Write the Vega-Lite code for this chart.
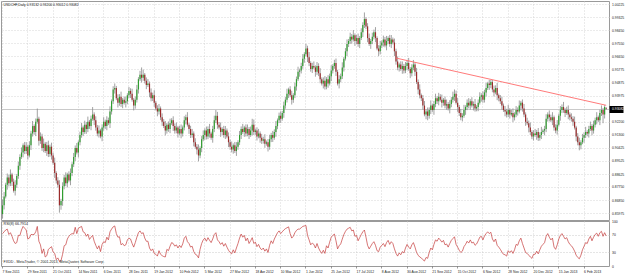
{
"$schema":"https://vega.github.io/schema/vega-lite/v6.json",
"padding":0,
"background":"white",
"bounds":"flush",
"config":{"font":"Liberation Sans","view":{"stroke":"#9a9a9a","strokeWidth":1},"axis":{"labelOverlap":false}},
"data":{"values":[
{"d":"2011-09-07","o":0.8590,"h":0.8690,"l":0.8560,"c":0.8650,"r":72},
{"d":"2011-09-08","o":0.8650,"h":0.8741,"l":0.8622,"c":0.8710,"r":76},
{"d":"2011-09-09","o":0.8710,"h":0.8804,"l":0.8697,"c":0.8790,"r":80},
{"d":"2011-09-12","o":0.8790,"h":0.8867,"l":0.8757,"c":0.8840,"r":82},
{"d":"2011-09-13","o":0.8840,"h":0.8858,"l":0.8779,"c":0.8800,"r":70},
{"d":"2011-09-14","o":0.8800,"h":0.8895,"l":0.8781,"c":0.8860,"r":74},
{"d":"2011-09-15","o":0.8860,"h":0.8872,"l":0.8782,"c":0.8810,"r":66},
{"d":"2011-09-16","o":0.8810,"h":0.8832,"l":0.8737,"c":0.8750,"r":56},
{"d":"2011-09-19","o":0.8750,"h":0.8821,"l":0.8717,"c":0.8790,"r":50},
{"d":"2011-09-20","o":0.8790,"h":0.8864,"l":0.8769,"c":0.8850,"r":52},
{"d":"2011-09-21","o":0.8850,"h":0.8947,"l":0.8831,"c":0.8920,"r":68},
{"d":"2011-09-22","o":0.8920,"h":0.8998,"l":0.8892,"c":0.8980,"r":68},
{"d":"2011-09-23","o":0.8980,"h":0.9045,"l":0.8967,"c":0.9010,"r":80},
{"d":"2011-09-26","o":0.9010,"h":0.9072,"l":0.8977,"c":0.9060,"r":88},
{"d":"2011-09-27","o":0.9060,"h":0.9082,"l":0.8999,"c":0.9020,"r":84},
{"d":"2011-09-28","o":0.9020,"h":0.9081,"l":0.9001,"c":0.9050,"r":80},
{"d":"2011-09-29","o":0.9050,"h":0.9064,"l":0.8962,"c":0.8990,"r":60},
{"d":"2011-09-30","o":0.8990,"h":0.9087,"l":0.8977,"c":0.9060,"r":62},
{"d":"2011-10-03","o":0.9060,"h":0.9158,"l":0.9027,"c":0.9140,"r":70},
{"d":"2011-10-04","o":0.9140,"h":0.9225,"l":0.9119,"c":0.9190,"r":70},
{"d":"2011-10-05","o":0.9190,"h":0.9202,"l":0.9131,"c":0.9150,"r":70},
{"d":"2011-10-06","o":0.9150,"h":0.9242,"l":0.9122,"c":0.9220,"r":76},
{"d":"2011-10-07","o":0.9220,"h":0.9310,"l":0.9207,"c":0.9240,"r":88},
{"d":"2011-10-10","o":0.9240,"h":0.9254,"l":0.9057,"c":0.9090,"r":55},
{"d":"2011-10-11","o":0.9090,"h":0.9147,"l":0.9069,"c":0.9120,"r":47},
{"d":"2011-10-12","o":0.9120,"h":0.9138,"l":0.9021,"c":0.9040,"r":28},
{"d":"2011-10-13","o":0.9040,"h":0.9105,"l":0.9012,"c":0.9070,"r":38},
{"d":"2011-10-14","o":0.9070,"h":0.9082,"l":0.9007,"c":0.9020,"r":20},
{"d":"2011-10-17","o":0.9020,"h":0.9082,"l":0.8987,"c":0.9060,"r":23},
{"d":"2011-10-18","o":0.9060,"h":0.9091,"l":0.8979,"c":0.9000,"r":37},
{"d":"2011-10-19","o":0.9000,"h":0.9064,"l":0.8981,"c":0.9050,"r":40},
{"d":"2011-10-20","o":0.9050,"h":0.9077,"l":0.8962,"c":0.8990,"r":43},
{"d":"2011-10-21","o":0.8990,"h":0.9008,"l":0.8927,"c":0.8940,"r":31},
{"d":"2011-10-24","o":0.8940,"h":0.8975,"l":0.8837,"c":0.8870,"r":28},
{"d":"2011-10-25","o":0.8870,"h":0.8882,"l":0.8799,"c":0.8820,"r":14},
{"d":"2011-10-26","o":0.8820,"h":0.8842,"l":0.8771,"c":0.8790,"r":18},
{"d":"2011-10-27","o":0.8790,"h":0.8821,"l":0.8600,"c":0.8650,"r":10},
{"d":"2011-10-28","o":0.8650,"h":0.8694,"l":0.8620,"c":0.8680,"r":12},
{"d":"2011-10-31","o":0.8680,"h":0.8807,"l":0.8647,"c":0.8780,"r":26},
{"d":"2011-11-01","o":0.8780,"h":0.8858,"l":0.8759,"c":0.8840,"r":45},
{"d":"2011-11-02","o":0.8840,"h":0.8875,"l":0.8781,"c":0.8800,"r":47},
{"d":"2011-11-03","o":0.8800,"h":0.8872,"l":0.8772,"c":0.8860,"r":60},
{"d":"2011-11-04","o":0.8860,"h":0.8882,"l":0.8807,"c":0.8820,"r":66},
{"d":"2011-11-07","o":0.8820,"h":0.8901,"l":0.8787,"c":0.8870,"r":70},
{"d":"2011-11-08","o":0.8870,"h":0.8944,"l":0.8849,"c":0.8930,"r":72},
{"d":"2011-11-09","o":0.8930,"h":0.9007,"l":0.8911,"c":0.8980,"r":71},
{"d":"2011-11-10","o":0.8980,"h":0.9058,"l":0.8952,"c":0.9040,"r":86},
{"d":"2011-11-11","o":0.9040,"h":0.9075,"l":0.8997,"c":0.9010,"r":72},
{"d":"2011-11-14","o":0.9010,"h":0.9092,"l":0.8977,"c":0.9080,"r":84},
{"d":"2011-11-15","o":0.9080,"h":0.9152,"l":0.9059,"c":0.9130,"r":86},
{"d":"2011-11-16","o":0.9130,"h":0.9211,"l":0.9111,"c":0.9180,"r":88},
{"d":"2011-11-17","o":0.9180,"h":0.9194,"l":0.9122,"c":0.9150,"r":76},
{"d":"2011-11-18","o":0.9150,"h":0.9227,"l":0.9137,"c":0.9200,"r":74},
{"d":"2011-11-21","o":0.9200,"h":0.9218,"l":0.9137,"c":0.9170,"r":66},
{"d":"2011-11-22","o":0.9170,"h":0.9255,"l":0.9149,"c":0.9220,"r":71},
{"d":"2011-11-23","o":0.9220,"h":0.9232,"l":0.9171,"c":0.9190,"r":59},
{"d":"2011-11-24","o":0.9190,"h":0.9262,"l":0.9162,"c":0.9240,"r":64},
{"d":"2011-11-25","o":0.9240,"h":0.9320,"l":0.9227,"c":0.9270,"r":68},
{"d":"2011-11-28","o":0.9270,"h":0.9284,"l":0.9197,"c":0.9230,"r":55},
{"d":"2011-11-29","o":0.9230,"h":0.9257,"l":0.9159,"c":0.9180,"r":46},
{"d":"2011-11-30","o":0.9180,"h":0.9198,"l":0.9121,"c":0.9140,"r":38},
{"d":"2011-12-01","o":0.9140,"h":0.9195,"l":0.9112,"c":0.9160,"r":45},
{"d":"2011-12-02","o":0.9160,"h":0.9172,"l":0.9107,"c":0.9120,"r":32},
{"d":"2011-12-05","o":0.9120,"h":0.9202,"l":0.9087,"c":0.9180,"r":48},
{"d":"2011-12-06","o":0.9180,"h":0.9251,"l":0.9159,"c":0.9220,"r":54},
{"d":"2011-12-07","o":0.9220,"h":0.9234,"l":0.9171,"c":0.9190,"r":52},
{"d":"2011-12-08","o":0.9190,"h":0.9257,"l":0.9162,"c":0.9230,"r":64},
{"d":"2011-12-09","o":0.9230,"h":0.9248,"l":0.9197,"c":0.9210,"r":58},
{"d":"2011-12-12","o":0.9210,"h":0.9325,"l":0.9177,"c":0.9290,"r":76},
{"d":"2011-12-13","o":0.9290,"h":0.9372,"l":0.9269,"c":0.9360,"r":82},
{"d":"2011-12-14","o":0.9360,"h":0.9462,"l":0.9341,"c":0.9440,"r":87},
{"d":"2011-12-15","o":0.9440,"h":0.9481,"l":0.9412,"c":0.9450,"r":89},
{"d":"2011-12-16","o":0.9450,"h":0.9464,"l":0.9367,"c":0.9380,"r":72},
{"d":"2011-12-19","o":0.9380,"h":0.9407,"l":0.9317,"c":0.9350,"r":64},
{"d":"2011-12-20","o":0.9350,"h":0.9408,"l":0.9329,"c":0.9390,"r":65},
{"d":"2011-12-21","o":0.9390,"h":0.9425,"l":0.9321,"c":0.9340,"r":47},
{"d":"2011-12-22","o":0.9340,"h":0.9382,"l":0.9312,"c":0.9370,"r":50},
{"d":"2011-12-23","o":0.9370,"h":0.9392,"l":0.9337,"c":0.9350,"r":45},
{"d":"2011-12-26","o":0.9350,"h":0.9391,"l":0.9317,"c":0.9360,"r":47},
{"d":"2011-12-27","o":0.9360,"h":0.9414,"l":0.9339,"c":0.9400,"r":58},
{"d":"2011-12-28","o":0.9400,"h":0.9457,"l":0.9381,"c":0.9430,"r":62},
{"d":"2011-12-29","o":0.9430,"h":0.9448,"l":0.9382,"c":0.9410,"r":60},
{"d":"2011-12-30","o":0.9410,"h":0.9445,"l":0.9357,"c":0.9370,"r":50},
{"d":"2012-01-02","o":0.9370,"h":0.9382,"l":0.9297,"c":0.9330,"r":42},
{"d":"2012-01-03","o":0.9330,"h":0.9392,"l":0.9309,"c":0.9370,"r":52},
{"d":"2012-01-04","o":0.9370,"h":0.9471,"l":0.9351,"c":0.9440,"r":64},
{"d":"2012-01-05","o":0.9440,"h":0.9524,"l":0.9412,"c":0.9510,"r":74},
{"d":"2012-01-06","o":0.9510,"h":0.9567,"l":0.9497,"c":0.9540,"r":78},
{"d":"2012-01-09","o":0.9540,"h":0.9590,"l":0.9487,"c":0.9520,"r":72},
{"d":"2012-01-10","o":0.9520,"h":0.9575,"l":0.9499,"c":0.9540,"r":74},
{"d":"2012-01-11","o":0.9540,"h":0.9552,"l":0.9481,"c":0.9500,"r":62},
{"d":"2012-01-12","o":0.9500,"h":0.9522,"l":0.9442,"c":0.9470,"r":55},
{"d":"2012-01-13","o":0.9470,"h":0.9511,"l":0.9457,"c":0.9480,"r":55},
{"d":"2012-01-16","o":0.9480,"h":0.9494,"l":0.9387,"c":0.9420,"r":40},
{"d":"2012-01-17","o":0.9420,"h":0.9447,"l":0.9359,"c":0.9380,"r":34},
{"d":"2012-01-18","o":0.9380,"h":0.9418,"l":0.9361,"c":0.9400,"r":38},
{"d":"2012-01-19","o":0.9400,"h":0.9435,"l":0.9322,"c":0.9350,"r":28},
{"d":"2012-01-20","o":0.9350,"h":0.9362,"l":0.9297,"c":0.9310,"r":26},
{"d":"2012-01-23","o":0.9310,"h":0.9332,"l":0.9257,"c":0.9290,"r":22},
{"d":"2012-01-24","o":0.9290,"h":0.9341,"l":0.9269,"c":0.9310,"r":34},
{"d":"2012-01-25","o":0.9310,"h":0.9324,"l":0.9231,"c":0.9250,"r":26},
{"d":"2012-01-26","o":0.9250,"h":0.9277,"l":0.9192,"c":0.9220,"r":23},
{"d":"2012-01-27","o":0.9220,"h":0.9238,"l":0.9177,"c":0.9190,"r":21},
{"d":"2012-01-30","o":0.9190,"h":0.9225,"l":0.9127,"c":0.9160,"r":20},
{"d":"2012-01-31","o":0.9160,"h":0.9212,"l":0.9139,"c":0.9200,"r":37},
{"d":"2012-02-01","o":0.9200,"h":0.9222,"l":0.9151,"c":0.9170,"r":34},
{"d":"2012-02-02","o":0.9170,"h":0.9241,"l":0.9142,"c":0.9210,"r":44},
{"d":"2012-02-03","o":0.9210,"h":0.9244,"l":0.9197,"c":0.9230,"r":52},
{"d":"2012-02-06","o":0.9230,"h":0.9257,"l":0.9157,"c":0.9190,"r":50},
{"d":"2012-02-07","o":0.9190,"h":0.9208,"l":0.9139,"c":0.9160,"r":44},
{"d":"2012-02-08","o":0.9160,"h":0.9215,"l":0.9141,"c":0.9180,"r":47},
{"d":"2012-02-09","o":0.9180,"h":0.9192,"l":0.9112,"c":0.9140,"r":40},
{"d":"2012-02-10","o":0.9140,"h":0.9192,"l":0.9127,"c":0.9170,"r":46},
{"d":"2012-02-13","o":0.9170,"h":0.9201,"l":0.9107,"c":0.9140,"r":41},
{"d":"2012-02-14","o":0.9140,"h":0.9194,"l":0.9119,"c":0.9180,"r":49},
{"d":"2012-02-15","o":0.9180,"h":0.9257,"l":0.9161,"c":0.9230,"r":62},
{"d":"2012-02-16","o":0.9230,"h":0.9268,"l":0.9202,"c":0.9250,"r":66},
{"d":"2012-02-17","o":0.9250,"h":0.9285,"l":0.9187,"c":0.9200,"r":54},
{"d":"2012-02-20","o":0.9200,"h":0.9212,"l":0.9137,"c":0.9170,"r":50},
{"d":"2012-02-21","o":0.9170,"h":0.9192,"l":0.9109,"c":0.9130,"r":42},
{"d":"2012-02-22","o":0.9130,"h":0.9171,"l":0.9111,"c":0.9140,"r":44},
{"d":"2012-02-23","o":0.9140,"h":0.9154,"l":0.9052,"c":0.9080,"r":32},
{"d":"2012-02-24","o":0.9080,"h":0.9107,"l":0.9037,"c":0.9050,"r":26},
{"d":"2012-02-27","o":0.9050,"h":0.9068,"l":0.8997,"c":0.9030,"r":24},
{"d":"2012-02-28","o":0.9030,"h":0.9065,"l":0.8950,"c":0.8990,"r":18},
{"d":"2012-02-29","o":0.8990,"h":0.9052,"l":0.8971,"c":0.9040,"r":37},
{"d":"2012-03-01","o":0.9040,"h":0.9122,"l":0.9012,"c":0.9100,"r":50},
{"d":"2012-03-02","o":0.9100,"h":0.9161,"l":0.9087,"c":0.9130,"r":58},
{"d":"2012-03-05","o":0.9130,"h":0.9174,"l":0.9097,"c":0.9160,"r":62},
{"d":"2012-03-06","o":0.9160,"h":0.9187,"l":0.9099,"c":0.9120,"r":55},
{"d":"2012-03-07","o":0.9120,"h":0.9188,"l":0.9101,"c":0.9170,"r":63},
{"d":"2012-03-08","o":0.9170,"h":0.9205,"l":0.9112,"c":0.9140,"r":57},
{"d":"2012-03-09","o":0.9140,"h":0.9152,"l":0.9097,"c":0.9110,"r":52},
{"d":"2012-03-12","o":0.9110,"h":0.9192,"l":0.9077,"c":0.9170,"r":60},
{"d":"2012-03-13","o":0.9170,"h":0.9261,"l":0.9149,"c":0.9230,"r":70},
{"d":"2012-03-14","o":0.9230,"h":0.9300,"l":0.9211,"c":0.9260,"r":74},
{"d":"2012-03-15","o":0.9260,"h":0.9287,"l":0.9172,"c":0.9200,"r":58},
{"d":"2012-03-16","o":0.9200,"h":0.9218,"l":0.9167,"c":0.9180,"r":54},
{"d":"2012-03-19","o":0.9180,"h":0.9215,"l":0.9117,"c":0.9150,"r":48},
{"d":"2012-03-20","o":0.9150,"h":0.9182,"l":0.9129,"c":0.9170,"r":52},
{"d":"2012-03-21","o":0.9170,"h":0.9192,"l":0.9111,"c":0.9130,"r":44},
{"d":"2012-03-22","o":0.9130,"h":0.9191,"l":0.9102,"c":0.9160,"r":50},
{"d":"2012-03-23","o":0.9160,"h":0.9174,"l":0.9107,"c":0.9120,"r":42},
{"d":"2012-03-26","o":0.9120,"h":0.9147,"l":0.9047,"c":0.9080,"r":35},
{"d":"2012-03-27","o":0.9080,"h":0.9098,"l":0.9029,"c":0.9050,"r":30},
{"d":"2012-03-28","o":0.9050,"h":0.9085,"l":0.9011,"c":0.9030,"r":27},
{"d":"2012-03-29","o":0.9030,"h":0.9072,"l":0.9002,"c":0.9060,"r":36},
{"d":"2012-03-30","o":0.9060,"h":0.9082,"l":0.9007,"c":0.9020,"r":29},
{"d":"2012-04-02","o":0.9020,"h":0.9081,"l":0.8987,"c":0.9050,"r":40},
{"d":"2012-04-03","o":0.9050,"h":0.9094,"l":0.9029,"c":0.9080,"r":50},
{"d":"2012-04-04","o":0.9080,"h":0.9157,"l":0.9061,"c":0.9130,"r":62},
{"d":"2012-04-05","o":0.9130,"h":0.9188,"l":0.9102,"c":0.9170,"r":71},
{"d":"2012-04-06","o":0.9170,"h":0.9205,"l":0.9137,"c":0.9150,"r":64},
{"d":"2012-04-09","o":0.9150,"h":0.9192,"l":0.9117,"c":0.9180,"r":68},
{"d":"2012-04-10","o":0.9180,"h":0.9202,"l":0.9119,"c":0.9140,"r":56},
{"d":"2012-04-11","o":0.9140,"h":0.9201,"l":0.9121,"c":0.9170,"r":62},
{"d":"2012-04-12","o":0.9170,"h":0.9184,"l":0.9102,"c":0.9130,"r":50},
{"d":"2012-04-13","o":0.9130,"h":0.9187,"l":0.9117,"c":0.9160,"r":56},
{"d":"2012-04-16","o":0.9160,"h":0.9240,"l":0.9127,"c":0.9200,"r":63},
{"d":"2012-04-17","o":0.9200,"h":0.9235,"l":0.9129,"c":0.9150,"r":50},
{"d":"2012-04-18","o":0.9150,"h":0.9172,"l":0.9131,"c":0.9160,"r":53},
{"d":"2012-04-19","o":0.9160,"h":0.9182,"l":0.9092,"c":0.9120,"r":43},
{"d":"2012-04-20","o":0.9120,"h":0.9171,"l":0.9107,"c":0.9140,"r":48},
{"d":"2012-04-23","o":0.9140,"h":0.9154,"l":0.9077,"c":0.9110,"r":40},
{"d":"2012-04-24","o":0.9110,"h":0.9137,"l":0.9069,"c":0.9090,"r":36},
{"d":"2012-04-25","o":0.9090,"h":0.9118,"l":0.9071,"c":0.9100,"r":40},
{"d":"2012-04-26","o":0.9100,"h":0.9135,"l":0.9042,"c":0.9070,"r":33},
{"d":"2012-04-27","o":0.9070,"h":0.9092,"l":0.9057,"c":0.9080,"r":38},
{"d":"2012-04-30","o":0.9080,"h":0.9102,"l":0.9017,"c":0.9050,"r":30},
{"d":"2012-05-01","o":0.9050,"h":0.9131,"l":0.9029,"c":0.9100,"r":46},
{"d":"2012-05-02","o":0.9100,"h":0.9144,"l":0.9081,"c":0.9130,"r":56},
{"d":"2012-05-03","o":0.9130,"h":0.9157,"l":0.9082,"c":0.9110,"r":50},
{"d":"2012-05-04","o":0.9110,"h":0.9168,"l":0.9097,"c":0.9150,"r":60},
{"d":"2012-05-07","o":0.9150,"h":0.9225,"l":0.9117,"c":0.9190,"r":67},
{"d":"2012-05-08","o":0.9190,"h":0.9242,"l":0.9169,"c":0.9230,"r":74},
{"d":"2012-05-09","o":0.9230,"h":0.9282,"l":0.9211,"c":0.9260,"r":78},
{"d":"2012-05-10","o":0.9260,"h":0.9291,"l":0.9212,"c":0.9240,"r":72},
{"d":"2012-05-11","o":0.9240,"h":0.9294,"l":0.9227,"c":0.9280,"r":76},
{"d":"2012-05-14","o":0.9280,"h":0.9357,"l":0.9247,"c":0.9330,"r":80},
{"d":"2012-05-15","o":0.9330,"h":0.9388,"l":0.9309,"c":0.9370,"r":83},
{"d":"2012-05-16","o":0.9370,"h":0.9445,"l":0.9351,"c":0.9410,"r":85},
{"d":"2012-05-17","o":0.9410,"h":0.9452,"l":0.9382,"c":0.9440,"r":87},
{"d":"2012-05-18","o":0.9440,"h":0.9462,"l":0.9387,"c":0.9400,"r":72},
{"d":"2012-05-21","o":0.9400,"h":0.9431,"l":0.9337,"c":0.9370,"r":62},
{"d":"2012-05-22","o":0.9370,"h":0.9414,"l":0.9349,"c":0.9400,"r":66},
{"d":"2012-05-23","o":0.9400,"h":0.9487,"l":0.9381,"c":0.9460,"r":74},
{"d":"2012-05-24","o":0.9460,"h":0.9528,"l":0.9432,"c":0.9510,"r":79},
{"d":"2012-05-25","o":0.9510,"h":0.9595,"l":0.9497,"c":0.9560,"r":82},
{"d":"2012-05-28","o":0.9560,"h":0.9582,"l":0.9527,"c":0.9570,"r":82},
{"d":"2012-05-29","o":0.9570,"h":0.9622,"l":0.9549,"c":0.9600,"r":85},
{"d":"2012-05-30","o":0.9600,"h":0.9681,"l":0.9581,"c":0.9650,"r":88},
{"d":"2012-05-31","o":0.9650,"h":0.9694,"l":0.9622,"c":0.9680,"r":89},
{"d":"2012-06-01","o":0.9680,"h":0.9750,"l":0.9667,"c":0.9720,"r":90},
{"d":"2012-06-04","o":0.9720,"h":0.9738,"l":0.9627,"c":0.9660,"r":68},
{"d":"2012-06-05","o":0.9660,"h":0.9695,"l":0.9599,"c":0.9620,"r":58},
{"d":"2012-06-06","o":0.9620,"h":0.9632,"l":0.9561,"c":0.9580,"r":47},
{"d":"2012-06-07","o":0.9580,"h":0.9622,"l":0.9552,"c":0.9600,"r":51},
{"d":"2012-06-08","o":0.9600,"h":0.9631,"l":0.9577,"c":0.9590,"r":48},
{"d":"2012-06-11","o":0.9590,"h":0.9604,"l":0.9527,"c":0.9560,"r":40},
{"d":"2012-06-12","o":0.9560,"h":0.9627,"l":0.9539,"c":0.9600,"r":50},
{"d":"2012-06-13","o":0.9600,"h":0.9618,"l":0.9531,"c":0.9550,"r":40},
{"d":"2012-06-14","o":0.9550,"h":0.9585,"l":0.9482,"c":0.9510,"r":33},
{"d":"2012-06-15","o":0.9510,"h":0.9522,"l":0.9467,"c":0.9480,"r":28},
{"d":"2012-06-18","o":0.9480,"h":0.9522,"l":0.9447,"c":0.9500,"r":35},
{"d":"2012-06-19","o":0.9500,"h":0.9531,"l":0.9439,"c":0.9460,"r":28},
{"d":"2012-06-20","o":0.9460,"h":0.9524,"l":0.9441,"c":0.9510,"r":45},
{"d":"2012-06-21","o":0.9510,"h":0.9537,"l":0.9452,"c":0.9480,"r":40},
{"d":"2012-06-22","o":0.9480,"h":0.9548,"l":0.9467,"c":0.9530,"r":53},
{"d":"2012-06-25","o":0.9530,"h":0.9605,"l":0.9497,"c":0.9570,"r":64},
{"d":"2012-06-26","o":0.9570,"h":0.9612,"l":0.9549,"c":0.9600,"r":68},
{"d":"2012-06-27","o":0.9600,"h":0.9642,"l":0.9581,"c":0.9620,"r":71},
{"d":"2012-06-28","o":0.9620,"h":0.9651,"l":0.9532,"c":0.9560,"r":56},
{"d":"2012-06-29","o":0.9560,"h":0.9574,"l":0.9467,"c":0.9480,"r":38},
{"d":"2012-07-02","o":0.9480,"h":0.9537,"l":0.9447,"c":0.9510,"r":45},
{"d":"2012-07-03","o":0.9510,"h":0.9548,"l":0.9489,"c":0.9530,"r":49},
{"d":"2012-07-04","o":0.9530,"h":0.9625,"l":0.9511,"c":0.9590,"r":60},
{"d":"2012-07-05","o":0.9590,"h":0.9662,"l":0.9562,"c":0.9650,"r":70},
{"d":"2012-07-06","o":0.9650,"h":0.9722,"l":0.9637,"c":0.9700,"r":77},
{"d":"2012-07-09","o":0.9700,"h":0.9781,"l":0.9667,"c":0.9750,"r":82},
{"d":"2012-07-10","o":0.9750,"h":0.9784,"l":0.9729,"c":0.9770,"r":84},
{"d":"2012-07-11","o":0.9770,"h":0.9827,"l":0.9751,"c":0.9800,"r":86},
{"d":"2012-07-12","o":0.9800,"h":0.9818,"l":0.9752,"c":0.9780,"r":78},
{"d":"2012-07-13","o":0.9780,"h":0.9845,"l":0.9767,"c":0.9810,"r":80},
{"d":"2012-07-16","o":0.9810,"h":0.9822,"l":0.9737,"c":0.9770,"r":66},
{"d":"2012-07-17","o":0.9770,"h":0.9812,"l":0.9749,"c":0.9790,"r":68},
{"d":"2012-07-18","o":0.9790,"h":0.9821,"l":0.9731,"c":0.9750,"r":56},
{"d":"2012-07-19","o":0.9750,"h":0.9804,"l":0.9722,"c":0.9790,"r":63},
{"d":"2012-07-20","o":0.9790,"h":0.9857,"l":0.9777,"c":0.9830,"r":70},
{"d":"2012-07-23","o":0.9830,"h":0.9898,"l":0.9797,"c":0.9880,"r":76},
{"d":"2012-07-24","o":0.9880,"h":0.9965,"l":0.9859,"c":0.9920,"r":80},
{"d":"2012-07-25","o":0.9920,"h":0.9932,"l":0.9851,"c":0.9870,"r":64},
{"d":"2012-07-26","o":0.9870,"h":0.9892,"l":0.9762,"c":0.9790,"r":46},
{"d":"2012-07-27","o":0.9790,"h":0.9821,"l":0.9737,"c":0.9750,"r":38},
{"d":"2012-07-30","o":0.9750,"h":0.9784,"l":0.9717,"c":0.9770,"r":44},
{"d":"2012-07-31","o":0.9770,"h":0.9827,"l":0.9749,"c":0.9800,"r":50},
{"d":"2012-08-01","o":0.9800,"h":0.9848,"l":0.9781,"c":0.9830,"r":54},
{"d":"2012-08-02","o":0.9830,"h":0.9865,"l":0.9762,"c":0.9790,"r":46},
{"d":"2012-08-03","o":0.9790,"h":0.9802,"l":0.9707,"c":0.9720,"r":34},
{"d":"2012-08-06","o":0.9720,"h":0.9742,"l":0.9667,"c":0.9700,"r":32},
{"d":"2012-08-07","o":0.9700,"h":0.9771,"l":0.9679,"c":0.9740,"r":42},
{"d":"2012-08-08","o":0.9740,"h":0.9774,"l":0.9721,"c":0.9760,"r":46},
{"d":"2012-08-09","o":0.9760,"h":0.9807,"l":0.9732,"c":0.9780,"r":50},
{"d":"2012-08-10","o":0.9780,"h":0.9798,"l":0.9727,"c":0.9740,"r":43},
{"d":"2012-08-13","o":0.9740,"h":0.9805,"l":0.9707,"c":0.9770,"r":52},
{"d":"2012-08-14","o":0.9770,"h":0.9802,"l":0.9749,"c":0.9790,"r":57},
{"d":"2012-08-15","o":0.9790,"h":0.9812,"l":0.9731,"c":0.9750,"r":48},
{"d":"2012-08-16","o":0.9750,"h":0.9811,"l":0.9722,"c":0.9780,"r":54},
{"d":"2012-08-17","o":0.9780,"h":0.9794,"l":0.9747,"c":0.9760,"r":50},
{"d":"2012-08-20","o":0.9760,"h":0.9787,"l":0.9667,"c":0.9700,"r":38},
{"d":"2012-08-21","o":0.9700,"h":0.9718,"l":0.9609,"c":0.9630,"r":28},
{"d":"2012-08-22","o":0.9630,"h":0.9665,"l":0.9571,"c":0.9590,"r":22},
{"d":"2012-08-23","o":0.9590,"h":0.9622,"l":0.9562,"c":0.9610,"r":29},
{"d":"2012-08-24","o":0.9610,"h":0.9632,"l":0.9567,"c":0.9580,"r":25},
{"d":"2012-08-27","o":0.9580,"h":0.9631,"l":0.9547,"c":0.9600,"r":32},
{"d":"2012-08-28","o":0.9600,"h":0.9614,"l":0.9549,"c":0.9570,"r":29},
{"d":"2012-08-29","o":0.9570,"h":0.9627,"l":0.9551,"c":0.9600,"r":40},
{"d":"2012-08-30","o":0.9600,"h":0.9638,"l":0.9572,"c":0.9620,"r":48},
{"d":"2012-08-31","o":0.9620,"h":0.9655,"l":0.9567,"c":0.9580,"r":42},
{"d":"2012-09-03","o":0.9580,"h":0.9592,"l":0.9517,"c":0.9550,"r":38},
{"d":"2012-09-04","o":0.9550,"h":0.9612,"l":0.9529,"c":0.9590,"r":47},
{"d":"2012-09-05","o":0.9590,"h":0.9641,"l":0.9571,"c":0.9610,"r":52},
{"d":"2012-09-06","o":0.9610,"h":0.9624,"l":0.9532,"c":0.9560,"r":42},
{"d":"2012-09-07","o":0.9560,"h":0.9587,"l":0.9477,"c":0.9490,"r":30},
{"d":"2012-09-10","o":0.9490,"h":0.9508,"l":0.9407,"c":0.9440,"r":24},
{"d":"2012-09-11","o":0.9440,"h":0.9475,"l":0.9379,"c":0.9400,"r":20},
{"d":"2012-09-12","o":0.9400,"h":0.9412,"l":0.9361,"c":0.9380,"r":18},
{"d":"2012-09-13","o":0.9380,"h":0.9402,"l":0.9302,"c":0.9330,"r":14},
{"d":"2012-09-14","o":0.9330,"h":0.9361,"l":0.9257,"c":0.9270,"r":11},
{"d":"2012-09-17","o":0.9270,"h":0.9304,"l":0.9237,"c":0.9290,"r":19},
{"d":"2012-09-18","o":0.9290,"h":0.9317,"l":0.9230,"c":0.9260,"r":17},
{"d":"2012-09-19","o":0.9260,"h":0.9318,"l":0.9241,"c":0.9300,"r":30},
{"d":"2012-09-20","o":0.9300,"h":0.9365,"l":0.9272,"c":0.9330,"r":40},
{"d":"2012-09-21","o":0.9330,"h":0.9342,"l":0.9287,"c":0.9300,"r":36},
{"d":"2012-09-24","o":0.9300,"h":0.9362,"l":0.9267,"c":0.9340,"r":48},
{"d":"2012-09-25","o":0.9340,"h":0.9411,"l":0.9319,"c":0.9380,"r":58},
{"d":"2012-09-26","o":0.9380,"h":0.9394,"l":0.9341,"c":0.9360,"r":55},
{"d":"2012-09-27","o":0.9360,"h":0.9417,"l":0.9332,"c":0.9390,"r":62},
{"d":"2012-09-28","o":0.9390,"h":0.9408,"l":0.9357,"c":0.9370,"r":58},
{"d":"2012-10-01","o":0.9370,"h":0.9405,"l":0.9317,"c":0.9350,"r":53},
{"d":"2012-10-02","o":0.9350,"h":0.9382,"l":0.9329,"c":0.9370,"r":57},
{"d":"2012-10-03","o":0.9370,"h":0.9392,"l":0.9311,"c":0.9330,"r":47},
{"d":"2012-10-04","o":0.9330,"h":0.9371,"l":0.9302,"c":0.9340,"r":49},
{"d":"2012-10-05","o":0.9340,"h":0.9354,"l":0.9297,"c":0.9310,"r":42},
{"d":"2012-10-08","o":0.9310,"h":0.9367,"l":0.9277,"c":0.9340,"r":50},
{"d":"2012-10-09","o":0.9340,"h":0.9388,"l":0.9319,"c":0.9370,"r":57},
{"d":"2012-10-10","o":0.9370,"h":0.9425,"l":0.9351,"c":0.9390,"r":61},
{"d":"2012-10-11","o":0.9390,"h":0.9440,"l":0.9362,"c":0.9410,"r":65},
{"d":"2012-10-12","o":0.9410,"h":0.9432,"l":0.9337,"c":0.9350,"r":48},
{"d":"2012-10-15","o":0.9350,"h":0.9381,"l":0.9287,"c":0.9320,"r":42},
{"d":"2012-10-16","o":0.9320,"h":0.9334,"l":0.9259,"c":0.9280,"r":35},
{"d":"2012-10-17","o":0.9280,"h":0.9307,"l":0.9230,"c":0.9250,"r":30},
{"d":"2012-10-18","o":0.9250,"h":0.9278,"l":0.9222,"c":0.9260,"r":33},
{"d":"2012-10-19","o":0.9260,"h":0.9335,"l":0.9247,"c":0.9300,"r":43},
{"d":"2012-10-22","o":0.9300,"h":0.9332,"l":0.9267,"c":0.9320,"r":48},
{"d":"2012-10-23","o":0.9320,"h":0.9372,"l":0.9299,"c":0.9350,"r":55},
{"d":"2012-10-24","o":0.9350,"h":0.9381,"l":0.9311,"c":0.9330,"r":51},
{"d":"2012-10-25","o":0.9330,"h":0.9374,"l":0.9302,"c":0.9360,"r":58},
{"d":"2012-10-26","o":0.9360,"h":0.9387,"l":0.9317,"c":0.9330,"r":51},
{"d":"2012-10-29","o":0.9330,"h":0.9358,"l":0.9297,"c":0.9340,"r":53},
{"d":"2012-10-30","o":0.9340,"h":0.9375,"l":0.9289,"c":0.9310,"r":46},
{"d":"2012-10-31","o":0.9310,"h":0.9332,"l":0.9291,"c":0.9320,"r":49},
{"d":"2012-11-01","o":0.9320,"h":0.9372,"l":0.9292,"c":0.9350,"r":56},
{"d":"2012-11-02","o":0.9350,"h":0.9421,"l":0.9337,"c":0.9390,"r":64},
{"d":"2012-11-05","o":0.9390,"h":0.9414,"l":0.9357,"c":0.9400,"r":66},
{"d":"2012-11-06","o":0.9400,"h":0.9427,"l":0.9349,"c":0.9370,"r":58},
{"d":"2012-11-07","o":0.9370,"h":0.9438,"l":0.9351,"c":0.9420,"r":67},
{"d":"2012-11-08","o":0.9420,"h":0.9485,"l":0.9392,"c":0.9450,"r":72},
{"d":"2012-11-09","o":0.9450,"h":0.9492,"l":0.9437,"c":0.9480,"r":76},
{"d":"2012-11-12","o":0.9480,"h":0.9505,"l":0.9437,"c":0.9470,"r":72},
{"d":"2012-11-13","o":0.9470,"h":0.9505,"l":0.9449,"c":0.9490,"r":75},
{"d":"2012-11-14","o":0.9490,"h":0.9504,"l":0.9421,"c":0.9440,"r":60},
{"d":"2012-11-15","o":0.9440,"h":0.9467,"l":0.9392,"c":0.9420,"r":54},
{"d":"2012-11-16","o":0.9420,"h":0.9468,"l":0.9407,"c":0.9450,"r":60},
{"d":"2012-11-19","o":0.9450,"h":0.9485,"l":0.9367,"c":0.9400,"r":46},
{"d":"2012-11-20","o":0.9400,"h":0.9412,"l":0.9359,"c":0.9380,"r":42},
{"d":"2012-11-21","o":0.9380,"h":0.9402,"l":0.9341,"c":0.9360,"r":37},
{"d":"2012-11-22","o":0.9360,"h":0.9391,"l":0.9302,"c":0.9330,"r":31},
{"d":"2012-11-23","o":0.9330,"h":0.9344,"l":0.9287,"c":0.9300,"r":26},
{"d":"2012-11-26","o":0.9300,"h":0.9327,"l":0.9257,"c":0.9290,"r":25},
{"d":"2012-11-27","o":0.9290,"h":0.9308,"l":0.9249,"c":0.9270,"r":22},
{"d":"2012-11-28","o":0.9270,"h":0.9335,"l":0.9251,"c":0.9300,"r":34},
{"d":"2012-11-29","o":0.9300,"h":0.9312,"l":0.9242,"c":0.9270,"r":30},
{"d":"2012-11-30","o":0.9270,"h":0.9302,"l":0.9257,"c":0.9280,"r":34},
{"d":"2012-12-03","o":0.9280,"h":0.9311,"l":0.9217,"c":0.9250,"r":28},
{"d":"2012-12-04","o":0.9250,"h":0.9284,"l":0.9229,"c":0.9270,"r":36},
{"d":"2012-12-05","o":0.9270,"h":0.9327,"l":0.9251,"c":0.9300,"r":48},
{"d":"2012-12-06","o":0.9300,"h":0.9318,"l":0.9262,"c":0.9290,"r":46},
{"d":"2012-12-07","o":0.9290,"h":0.9365,"l":0.9277,"c":0.9330,"r":56},
{"d":"2012-12-10","o":0.9330,"h":0.9362,"l":0.9297,"c":0.9350,"r":62},
{"d":"2012-12-11","o":0.9350,"h":0.9372,"l":0.9289,"c":0.9310,"r":50},
{"d":"2012-12-12","o":0.9310,"h":0.9341,"l":0.9251,"c":0.9270,"r":40},
{"d":"2012-12-13","o":0.9270,"h":0.9284,"l":0.9192,"c":0.9220,"r":30},
{"d":"2012-12-14","o":0.9220,"h":0.9247,"l":0.9197,"c":0.9210,"r":28},
{"d":"2012-12-17","o":0.9210,"h":0.9228,"l":0.9147,"c":0.9180,"r":24},
{"d":"2012-12-18","o":0.9180,"h":0.9215,"l":0.9129,"c":0.9150,"r":20},
{"d":"2012-12-19","o":0.9150,"h":0.9162,"l":0.9101,"c":0.9120,"r":17},
{"d":"2012-12-20","o":0.9120,"h":0.9162,"l":0.9092,"c":0.9140,"r":26},
{"d":"2012-12-21","o":0.9140,"h":0.9171,"l":0.9117,"c":0.9130,"r":26},
{"d":"2012-12-24","o":0.9130,"h":0.9164,"l":0.9097,"c":0.9150,"r":33},
{"d":"2012-12-26","o":0.9150,"h":0.9177,"l":0.9089,"c":0.9110,"r":27},
{"d":"2012-12-27","o":0.9110,"h":0.9148,"l":0.9091,"c":0.9130,"r":36},
{"d":"2012-12-28","o":0.9130,"h":0.9185,"l":0.9102,"c":0.9150,"r":44},
{"d":"2012-12-31","o":0.9150,"h":0.9172,"l":0.9137,"c":0.9160,"r":48},
{"d":"2013-01-02","o":0.9160,"h":0.9192,"l":0.9127,"c":0.9170,"r":52},
{"d":"2013-01-03","o":0.9170,"h":0.9271,"l":0.9149,"c":0.9240,"r":66},
{"d":"2013-01-04","o":0.9240,"h":0.9284,"l":0.9221,"c":0.9270,"r":72},
{"d":"2013-01-07","o":0.9270,"h":0.9297,"l":0.9222,"c":0.9250,"r":64},
{"d":"2013-01-08","o":0.9250,"h":0.9268,"l":0.9217,"c":0.9230,"r":58},
{"d":"2013-01-09","o":0.9230,"h":0.9285,"l":0.9197,"c":0.9250,"r":62},
{"d":"2013-01-10","o":0.9250,"h":0.9262,"l":0.9159,"c":0.9180,"r":42},
{"d":"2013-01-11","o":0.9180,"h":0.9202,"l":0.9141,"c":0.9160,"r":37},
{"d":"2013-01-14","o":0.9160,"h":0.9231,"l":0.9132,"c":0.9200,"r":47},
{"d":"2013-01-15","o":0.9200,"h":0.9274,"l":0.9187,"c":0.9260,"r":60},
{"d":"2013-01-16","o":0.9260,"h":0.9327,"l":0.9227,"c":0.9300,"r":68},
{"d":"2013-01-17","o":0.9300,"h":0.9338,"l":0.9279,"c":0.9320,"r":72},
{"d":"2013-01-18","o":0.9320,"h":0.9355,"l":0.9281,"c":0.9300,"r":66},
{"d":"2013-01-21","o":0.9300,"h":0.9312,"l":0.9252,"c":0.9280,"r":60},
{"d":"2013-01-22","o":0.9280,"h":0.9322,"l":0.9267,"c":0.9300,"r":63},
{"d":"2013-01-23","o":0.9300,"h":0.9331,"l":0.9237,"c":0.9270,"r":54},
{"d":"2013-01-24","o":0.9270,"h":0.9284,"l":0.9229,"c":0.9250,"r":48},
{"d":"2013-01-25","o":0.9250,"h":0.9277,"l":0.9221,"c":0.9240,"r":45},
{"d":"2013-01-28","o":0.9240,"h":0.9258,"l":0.9192,"c":0.9220,"r":40},
{"d":"2013-01-29","o":0.9220,"h":0.9255,"l":0.9167,"c":0.9180,"r":33},
{"d":"2013-01-30","o":0.9180,"h":0.9192,"l":0.9087,"c":0.9120,"r":24},
{"d":"2013-01-31","o":0.9120,"h":0.9142,"l":0.9059,"c":0.9080,"r":19},
{"d":"2013-02-01","o":0.9080,"h":0.9111,"l":0.9025,"c":0.9060,"r":16},
{"d":"2013-02-04","o":0.9060,"h":0.9094,"l":0.9032,"c":0.9080,"r":24},
{"d":"2013-02-05","o":0.9080,"h":0.9137,"l":0.9067,"c":0.9110,"r":36},
{"d":"2013-02-06","o":0.9110,"h":0.9148,"l":0.9077,"c":0.9130,"r":44},
{"d":"2013-02-07","o":0.9130,"h":0.9185,"l":0.9109,"c":0.9150,"r":52},
{"d":"2013-02-08","o":0.9150,"h":0.9162,"l":0.9121,"c":0.9140,"r":50},
{"d":"2013-02-11","o":0.9140,"h":0.9192,"l":0.9112,"c":0.9170,"r":60},
{"d":"2013-02-12","o":0.9170,"h":0.9221,"l":0.9157,"c":0.9190,"r":66},
{"d":"2013-02-13","o":0.9190,"h":0.9204,"l":0.9127,"c":0.9160,"r":56},
{"d":"2013-02-14","o":0.9160,"h":0.9227,"l":0.9139,"c":0.9200,"r":64},
{"d":"2013-02-15","o":0.9200,"h":0.9248,"l":0.9181,"c":0.9230,"r":70},
{"d":"2013-02-18","o":0.9230,"h":0.9285,"l":0.9202,"c":0.9250,"r":73},
{"d":"2013-02-19","o":0.9250,"h":0.9262,"l":0.9217,"c":0.9230,"r":66},
{"d":"2013-02-20","o":0.9230,"h":0.9302,"l":0.9197,"c":0.9280,"r":74},
{"d":"2013-02-21","o":0.9280,"h":0.9331,"l":0.9259,"c":0.9300,"r":77},
{"d":"2013-02-22","o":0.9300,"h":0.9314,"l":0.9210,"c":0.9270,"r":66},
{"d":"2013-02-25","o":0.9270,"h":0.9333,"l":0.9242,"c":0.9320,"r":74},
{"d":"2013-02-26","o":0.93132,"h":0.93200,"l":0.93012,"c":0.93082,"r":66.7914}
]},
"spacing":1,
"vconcat":[
{
"width":608,"height":219,
"resolve":{"axis":{"y":"independent"}},
"encoding":{"x":{"field":"d","type":"ordinal","title":null,
"scale":{"type":"band","paddingInner":0.25,"paddingOuter":1.6,"align":0.3},
"axis":{"values":["2011-09-07","2011-09-29","2011-10-21","2011-11-14","2011-12-06","2011-12-28","2012-01-19","2012-02-10","2012-03-05","2012-03-27","2012-04-18","2012-05-10","2012-06-01","2012-06-25","2012-07-17","2012-08-08","2012-08-30","2012-09-21","2012-10-15","2012-11-06","2012-11-28","2012-12-20","2013-01-15","2013-02-06"],"labels":false,"ticks":false,"tickSize":0,"labelPadding":0,"domain":false,"minExtent":0,"maxExtent":0,"offset":0,"grid":true,"gridColor":"#cdcdcd","gridDash":[1,2],"gridWidth":0.8}}},
"layer":[
{"mark":{"type":"rule","color":"#8a8a8a","strokeWidth":0.8},
"encoding":{"y":{"field":"l","type":"quantitative","title":null,
"scale":{"domain":[0.855,1.0043],"nice":false,"zero":false},
"axis":{"orient":"right","title":null,"values":[1.00225,0.99325,0.9845,0.9755,0.9665,0.95775,0.94875,0.93975,0.93082,0.922,0.913,0.90425,0.89525,0.88625,0.8775,0.8685,0.85975],
"format":".5f","labelFontSize":3.4,"labelFont":"Liberation Sans",
"labelColor":{"condition":{"test":"abs(datum.value-0.93082)<0.000001","value":"white"},"value":"#222"},
"labelAlign":"left","labelBaseline":"middle","labelPadding":-11.5,"labelOverlap":false,"labelBound":false,"labelFlush":false,
"ticks":true,"tickSize":14,
"tickWidth":{"condition":{"test":"abs(datum.value-0.93082)<0.000001","value":7},"value":0},
"tickColor":{"condition":{"test":"abs(datum.value-0.93082)<0.000001","value":"#000"},"value":"transparent"},
"domain":false,"grid":true,
"gridColor":{"condition":{"test":"abs(datum.value-0.93082)<0.000001","value":"#bdbdbd"},"value":"#cdcdcd"},
"gridDash":{"condition":{"test":"abs(datum.value-0.93082)<0.000001","value":[]},"value":[1,2]},
"gridWidth":0.8}},
"y2":{"field":"h"}}},
{"mark":{"type":"bar"},
"encoding":{"y":{"field":"o","type":"quantitative","title":null,"axis":null},"y2":{"field":"c"},
"color":{"condition":{"test":"datum.c >= datum.o","value":"#2f9e2f"},"value":"#9b2b2b"}}},
{"data":{"values":[{"d":"2012-08-21","p":0.9654},{"d":"2013-02-26","p":0.9332}]},
"mark":{"type":"line","color":"#ff6b6b","strokeWidth":0.9},
"encoding":{"y":{"field":"p","type":"quantitative","title":null,"axis":null}}},
{"data":{"values":[{"t":"USDCHF,Daily  0.93132 0.93200 0.93012 0.93082"}]},
"mark":{"type":"text","align":"left","baseline":"middle","fontSize":3.4,"color":"#111","font":"Liberation Sans","dx":1},
"encoding":{"x":{"datum":"2011-09-07","type":"ordinal"},"y":{"datum":1.0018,"type":"quantitative","axis":null},"text":{"field":"t"}}}
]
},
{
"width":608,"height":45,
"resolve":{"axis":{"y":"independent"}},
"encoding":{"x":{"field":"d","type":"ordinal","title":null,
"scale":{"type":"band","paddingInner":0.25,"paddingOuter":1.6,"align":0.3},
"axis":{"orient":"bottom","values":["2011-09-07","2011-09-29","2011-10-21","2011-11-14","2011-12-06","2011-12-28","2012-01-19","2012-02-10","2012-03-05","2012-03-27","2012-04-18","2012-05-10","2012-06-01","2012-06-25","2012-07-17","2012-08-08","2012-08-30","2012-09-21","2012-10-15","2012-11-06","2012-11-28","2012-12-20","2013-01-15","2013-02-06"],
"labelExpr":"utcFormat(toDate(datum.value), '%-d %b %Y')","labelAngle":0,"labelAlign":"left","labelBaseline":"top","labelFontSize":3.4,"labelFont":"Liberation Sans","labelColor":"#222","labelPadding":1,"labelOverlap":false,"labelFlush":false,"labelBound":false,
"ticks":true,"tickSize":2,"tickColor":"#555","tickWidth":0.6,"domain":false,"grid":true,"gridColor":"#cdcdcd","gridDash":[1,2],"gridWidth":0.8}}},
"layer":[
{"mark":{"type":"line","color":"#c43b3b","strokeWidth":0.7},
"encoding":{"y":{"field":"r","type":"quantitative","title":null,
"scale":{"domain":[0,100],"nice":false,"zero":false},
"axis":{"orient":"right","title":null,"values":[0,30,70,100],"format":"d","labelFontSize":3.4,"labelFont":"Liberation Sans","labelColor":"#222","labelAlign":"left","labelBaseline":"middle","labelPadding":2.5,"labelOverlap":false,"labelBound":false,"labelFlush":false,"ticks":false,"domain":false,"grid":true,
"gridColor":{"condition":{"test":"datum.value==30||datum.value==70","value":"#bdbdbd"},"value":"transparent"},
"gridDash":[1,2],"gridWidth":0.8}}}},
{"data":{"values":[{"t":"RSI(8) 66.7914","y":93},{"t":"FXDD - MetaTrader, © 2001-2013, MetaQuotes Software Corp.","y":9}]},
"mark":{"type":"text","align":"left","baseline":"middle","fontSize":3.6,"color":"#222","font":"Liberation Sans","dx":1},
"encoding":{"x":{"datum":"2011-09-07","type":"ordinal"},"y":{"field":"y","type":"quantitative","axis":null},"text":{"field":"t"}}}
]
}
]
}
